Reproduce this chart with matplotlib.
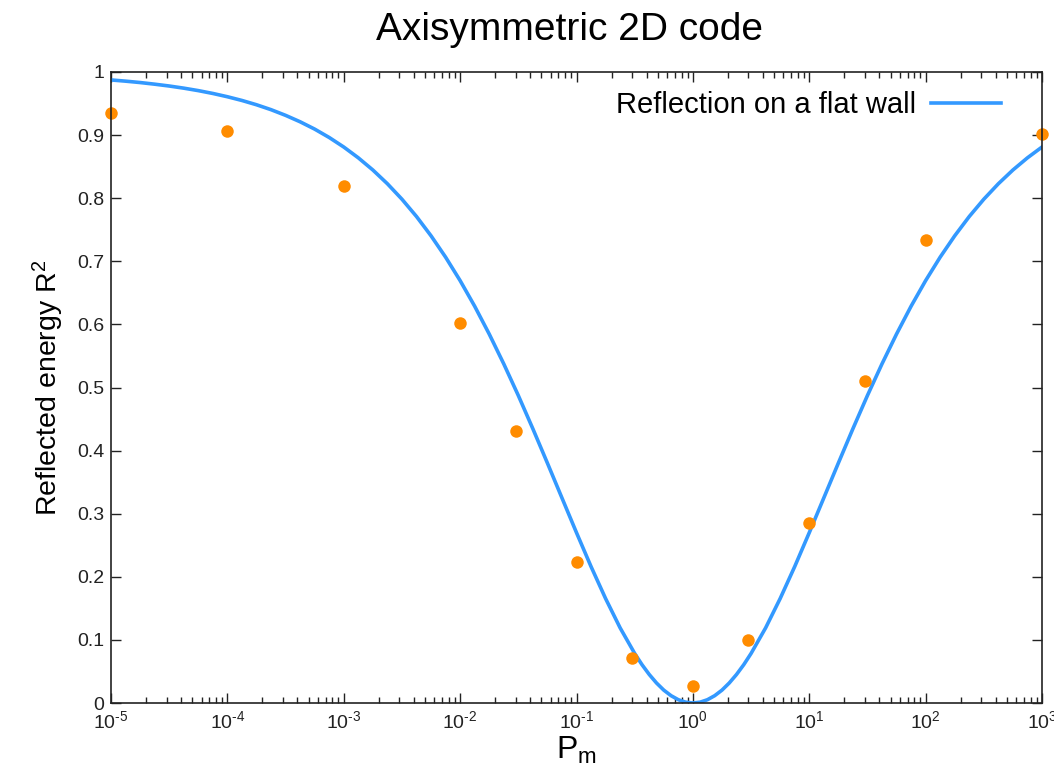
import numpy as np
import matplotlib.pyplot as plt
from matplotlib.ticker import LogLocator, NullFormatter, FuncFormatter

plt.rcParams['font.family'] = ['Liberation Sans', 'DejaVu Sans']
plt.rcParams['axes.unicode_minus'] = False
plt.rcParams['mathtext.fontset'] = 'custom'
plt.rcParams['mathtext.rm'] = 'Liberation Sans'
plt.rcParams['mathtext.it'] = 'Liberation Sans'

# simulation points (orange)
pm_sim = [1e-5, 1e-4, 1e-3, 1e-2, 3e-2, 1e-1, 3e-1, 1, 3, 10, 30, 100, 1000]
r2_sim = [0.935, 0.906, 0.819, 0.602, 0.431, 0.223, 0.071, 0.027, 0.100,
          0.285, 0.510, 0.734, 0.902]

# flat wall curve (log10 Pm, R^2)
log_pm_wall = [-5.0, -4.875, -4.75, -4.625, -4.5, -4.375, -4.25, -4.125,
               -4.0, -3.875, -3.75, -3.625, -3.5, -3.375, -3.25, -3.125,
               -3.0, -2.875, -2.75, -2.625, -2.5, -2.375, -2.25, -2.125,
               -2.0, -1.875, -1.75, -1.625, -1.5, -1.375, -1.25, -1.125,
               -1.0, -0.875, -0.75, -0.625, -0.5, -0.4375, -0.375, -0.3125,
               -0.25, -0.1875, -0.125, -0.0625, 0.0,
               0.0625, 0.125, 0.1875, 0.25, 0.3125, 0.375, 0.4375, 0.5,
               0.625, 0.75, 0.875, 1.0, 1.125, 1.25, 1.375, 1.5,
               1.625, 1.75, 1.875, 2.0, 2.125, 2.25, 2.375, 2.5,
               2.625, 2.75, 2.875, 3.0]
r2_wall = [0.9874, 0.9855, 0.9833, 0.9807, 0.9778, 0.9744, 0.9705, 0.9660,
           0.9608, 0.9549, 0.9481, 0.9403, 0.9313, 0.9211, 0.9095, 0.8962,
           0.8811, 0.8640, 0.8447, 0.8229, 0.7984, 0.7710, 0.7404, 0.7066,
           0.6694, 0.6288, 0.5847, 0.5374, 0.4873, 0.4346, 0.3802, 0.3250,
           0.2699, 0.2162, 0.1655, 0.1190, 0.0785, 0.0608, 0.0452, 0.0317,
           0.0204, 0.0116, 0.0052, 0.0013, 0.0,
           0.0013, 0.0052, 0.0116, 0.0204, 0.0317, 0.0452, 0.0608, 0.0785,
           0.1190, 0.1655, 0.2162, 0.2699, 0.3250, 0.3802, 0.4346, 0.4873,
           0.5374, 0.5847, 0.6288, 0.6694, 0.7066, 0.7404, 0.7710, 0.7984,
           0.8229, 0.8447, 0.8640, 0.8811]
pm_wall = 10.0 ** np.array(log_pm_wall)


def dec_label(v, pos):
    e = int(round(np.log10(v)))
    if e < 0:
        return r'$10^{\text{-}%d}$' % (-e)
    return r'$10^{%d}$' % e


fig = plt.figure(figsize=(10.54, 7.78), dpi=100)
ax = fig.add_axes([111/1054, 1 - 703/778, (1042-111)/1054, (703-72)/778])

ax.plot(pm_wall, r2_wall, color='#3399ff', lw=2.6, label='Reflection on a flat wall')
ax.plot(pm_sim, r2_sim, 'o', color='#ff8c00', ms=9, mec='none', clip_on=False)

ax.set_xscale('log')
ax.set_xlim(1e-5, 1e3)
ax.set_ylim(0, 1)
ax.xaxis.set_major_locator(LogLocator(base=10, numticks=20))
ax.xaxis.set_major_formatter(FuncFormatter(dec_label))
ax.xaxis.set_minor_locator(LogLocator(base=10, subs=np.arange(2, 10), numticks=20))
ax.xaxis.set_minor_formatter(NullFormatter())
ax.set_yticks(np.arange(0, 1.01, 0.1))
ax.set_yticklabels(['0'] + ['%.1f' % v for v in np.arange(0.1, 0.95, 0.1)] + ['1'])

ax.tick_params(which='both', direction='in', top=True, right=True,
               labelsize=14, colors='#222222', pad=5)
ax.tick_params(which='major', length=7, width=1)
ax.tick_params(which='minor', length=4, width=1)
for s in ax.spines.values():
    s.set_linewidth(1.2)
    s.set_color('#222222')

ax.set_xlabel(r'P$_\mathrm{m}$', fontsize=23, labelpad=2)
ax.set_ylabel(r'Reflected energy R$^2$', fontsize=20.5, labelpad=8)
fig.suptitle('Axisymmetric 2D code', fontsize=28, x=0.54, y=0.985)

ax.legend(loc='upper right', frameon=False, markerfirst=False, fontsize=21,
          handlelength=2.4, handletextpad=0.5, borderaxespad=1.0,
          bbox_to_anchor=(1.0, 1.035))

fig.savefig('out.png', dpi=100)
